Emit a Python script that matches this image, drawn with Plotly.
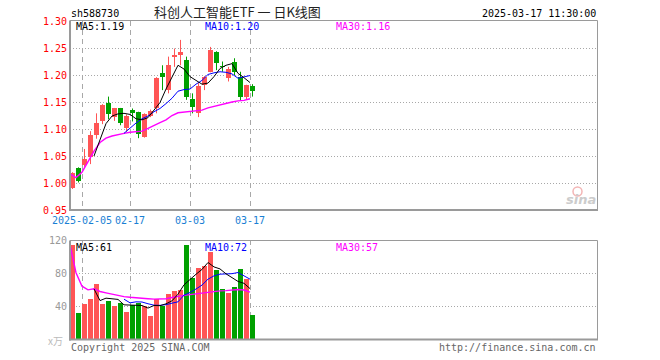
import plotly.graph_objects as go

# ---------------- data ----------------
dates = ["2025-01-24", "2025-01-27", "2025-02-05", "2025-02-06", "2025-02-07",
         "2025-02-10", "2025-02-11", "2025-02-12", "2025-02-13", "2025-02-14",
         "2025-02-17", "2025-02-18", "2025-02-19", "2025-02-20", "2025-02-21",
         "2025-02-24", "2025-02-25", "2025-02-26", "2025-02-27", "2025-02-28",
         "2025-03-03", "2025-03-04", "2025-03-05", "2025-03-06", "2025-03-07",
         "2025-03-10", "2025-03-11", "2025-03-12", "2025-03-13", "2025-03-14",
         "2025-03-17"]
opens = [0.991, 1.028, 1.033, 1.048, 1.089, 1.114, 1.149, 1.122, 1.138, 1.101,
         1.136, 1.132, 1.085, 1.124, 1.138, 1.204, 1.172, 1.233, 1.237, 1.228,
         1.156, 1.130, 1.181, 1.206, 1.243, 1.217, 1.194, 1.225, 1.197, 1.160,
         1.180]
highs = [1.020, 1.029, 1.063, 1.096, 1.129, 1.146, 1.160, 1.139, 1.139, 1.127,
         1.138, 1.132, 1.129, 1.136, 1.196, 1.218, 1.234, 1.249, 1.265, 1.234,
         1.166, 1.185, 1.198, 1.252, 1.244, 1.225, 1.215, 1.231, 1.206, 1.182,
         1.183]
lows = [0.989, 1.001, 1.030, 1.035, 1.082, 1.109, 1.118, 1.115, 1.107, 1.095,
        1.114, 1.083, 1.084, 1.122, 1.129, 1.172, 1.166, 1.215, 1.218, 1.154,
        1.129, 1.122, 1.172, 1.205, 1.209, 1.206, 1.188, 1.200, 1.153, 1.154,
        1.160]
closes = [1.018, 1.004, 1.044, 1.089, 1.111, 1.144, 1.128, 1.138, 1.112, 1.124,
          1.130, 1.090, 1.128, 1.134, 1.195, 1.196, 1.219, 1.237, 1.243, 1.160,
          1.140, 1.180, 1.197, 1.246, 1.222, 1.215, 1.212, 1.206, 1.160, 1.182,
          1.171]
volumes = [114.0, 32.7, 43.6, 49.7, 66.7, 43.6, 47.3, 41.2, 44.8, 33.9,
           42.4, 44.8, 41.2, 29.1, 49.7, 41.2, 55.8, 59.4, 60.6, 114.0,
           74.0, 86.5, 88.4, 105.8, 84.0, 61.8, 57.0, 63.8, 84.8, 72.7,
           30.3]

# moving averages
ma5_start = 4
ma5 = [1.050, 1.080, 1.110, 1.124, 1.128, 1.129, 1.127, 1.119, 1.117, 1.121,
       1.135, 1.149, 1.174, 1.196, 1.218, 1.211, 1.197, 1.190, 1.183, 1.185,
       1.197, 1.212, 1.218, 1.221, 1.203, 1.195, 1.186]
ma10_start = 9
ma10 = [1.092, 1.102, 1.111, 1.119, 1.124, 1.132, 1.138, 1.147, 1.157, 1.170,
        1.173, 1.174, 1.183, 1.190, 1.201, 1.204, 1.206, 1.205, 1.202, 1.194,
        1.196, 1.199]
ma30 = [1.017, 1.010, 1.020, 1.040, 1.059, 1.075, 1.083, 1.087, 1.090, 1.092,
        1.094, 1.095, 1.096, 1.101, 1.107, 1.112, 1.117, 1.125, 1.130, 1.131,
        1.132, 1.133, 1.135, 1.139, 1.142, 1.145, 1.147, 1.150, 1.152, 1.153,
        1.156]
vma5 = [61.3, 47.3, 50.2, 49.7, 48.7, 42.2, 41.9, 41.4, 41.4, 38.3,
        41.4, 41.2, 43.4, 47.0, 55.0, 66.2, 72.8, 78.9, 84.7, 93.0,
        87.7, 85.3, 79.4, 74.5, 70.3, 68.0, 61.7]
vma10 = [49.0, 44.6, 45.8, 45.6, 43.5, 41.8, 41.6, 42.4, 44.2, 45.8,
         53.8, 57.0, 61.2, 65.9, 73.0, 77.0, 79.0, 79.2, 79.6, 81.0,
         77.0, 73.0]
vma30 = [114.0, 80.8, 64.6, 60.2, 61.4, 58.2, 56.6, 55.0, 53.3, 52.1,
         51.3, 50.5, 50.1, 49.5, 49.0, 48.8, 49.5, 51.0, 52.5, 53.5,
         54.5, 55.4, 57.0, 58.0, 58.6, 59.0, 59.3, 59.8, 60.6, 60.0,
         57.5]

price_ticks = [0.95, 1.00, 1.05, 1.10, 1.15, 1.20, 1.25, 1.30]
vol_ticks = [40, 80, 120]
date_tick_idx = [2, 10, 20, 30]
date_tick_text = ["2025-02-05", "02-17", "03-03", "03-17"]

symbol = "sh588730"
title = "科创人工智能ETF 一 日K线图"
stamp = "2025-03-17 11:30:00"
ma_labels_price = ["MA5:1.19", "MA10:1.20", "MA30:1.16"]
ma_labels_vol = ["MA5:61", "MA10:72", "MA30:57"]

# ---------------- styling ----------------
W, H = 660, 360
L, R, T, B = 70, 597, 21, 340          # plot area in pixels
RED = "#ff5555"
GREEN = "#00a000"
GRID = "#a8a8a8"
BORDER = "#9a9a9a"
MONO = "DejaVu Sans Mono"
EDGE = -0.417  # offset from bar centre to the left edge of a bar

n = len(closes)
idx = list(range(n))
colors = [RED if c >= o else GREEN for o, c in zip(opens, closes)]


def px_x(p):
    return (p - L) / (R - L)


def px_y(p):
    return 1 - (p - T) / (B - T)


fig = go.Figure()

# wicks
for col in (RED, GREEN):
    wx, wy = [], []
    for i in idx:
        if colors[i] == col:
            wx += [i, i, None]
            wy += [lows[i], highs[i], None]
    fig.add_trace(go.Scatter(x=wx, y=wy, mode="lines", line=dict(color=col, width=1),
                             hoverinfo="skip", xaxis="x", yaxis="y"))

# bodies
fig.add_trace(go.Bar(
    x=idx, y=[max(abs(c - o), 0.0009) for o, c in zip(opens, closes)],
    base=[min(o, c) for o, c in zip(opens, closes)],
    marker=dict(color=colors, line=dict(width=0)), width=0.83,
    xaxis="x", yaxis="y"))

# price MAs
fig.add_trace(go.Scatter(x=[i + EDGE for i in idx], y=ma30, mode="lines",
                         line=dict(color="#ff00ff", width=1.4), xaxis="x", yaxis="y"))
fig.add_trace(go.Scatter(x=[i + EDGE for i in idx[ma10_start:]], y=ma10, mode="lines",
                         line=dict(color="#0000ff", width=1), xaxis="x", yaxis="y"))
fig.add_trace(go.Scatter(x=[i + EDGE for i in idx[ma5_start:]], y=ma5, mode="lines",
                         line=dict(color="#000000", width=1), xaxis="x", yaxis="y"))

# volume
fig.add_trace(go.Bar(x=idx, y=volumes, marker=dict(color=colors, line=dict(width=0)),
                     width=0.83, xaxis="x2", yaxis="y2"))
fig.add_trace(go.Scatter(x=[i + EDGE for i in idx], y=vma30, mode="lines",
                         line=dict(color="#ff00ff", width=1.4), xaxis="x2", yaxis="y2"))
fig.add_trace(go.Scatter(x=[i + EDGE for i in idx[ma10_start:]], y=vma10, mode="lines",
                         line=dict(color="#0000ff", width=1), xaxis="x2", yaxis="y2"))
fig.add_trace(go.Scatter(x=[i + EDGE for i in idx[ma5_start:]], y=vma5, mode="lines",
                         line=dict(color="#000000", width=1), xaxis="x2", yaxis="y2"))

xrange = [EDGE, (R - 72.5) / 6]
xgrid = [i + EDGE for i in date_tick_idx]

common_x = dict(domain=[0, 1], range=xrange, tickvals=xgrid, showgrid=True,
                gridcolor=GRID, griddash="5px,4px", gridwidth=1, zeroline=False,
                showline=False, ticks="", fixedrange=True, automargin=False)

fig.update_layout(
    width=W, height=H, margin=dict(l=L, r=W - R, t=T, b=H - B, autoexpand=False),
    paper_bgcolor="white", plot_bgcolor="white", showlegend=False,
    bargap=0, hovermode=False,
    xaxis=dict(**common_x, anchor="y", ticktext=date_tick_text, ticklabelstandoff=3,
               tickfont=dict(family=MONO, size=10, color="#1a7fd4")),
    yaxis=dict(domain=[px_y(210), 1], range=[0.95, 1.30], tickvals=price_ticks,
               ticktext=["%.2f" % v for v in price_ticks], showgrid=True, gridcolor=GRID,
               griddash="1px,2px", zeroline=False, showline=False, ticks="",
               ticklabelstandoff=2, automargin=False, fixedrange=True,
               tickfont=dict(family=MONO, size=10, color="#ff0000"), anchor="x"),
    xaxis2=dict(**common_x, anchor="y2", showticklabels=False),
    yaxis2=dict(domain=[0, px_y(240)], range=[0, 120], tickvals=vol_ticks,
                ticktext=[str(v) for v in vol_ticks], showgrid=True, gridcolor=GRID,
                griddash="1px,2px", zeroline=False, showline=False, ticks="",
                ticklabelstandoff=2, automargin=False, fixedrange=True,
                tickfont=dict(family=MONO, size=10, color="#999999"), anchor="x2"),
)

# panel borders
shapes = []
for top, bot in ((20.5, 210), (240.5, 339.5)):
    shapes += [
        dict(type="line", xref="paper", yref="paper", x0=px_x(70), x1=px_x(597.5),
             y0=px_y(top), y1=px_y(top), line=dict(color=BORDER, width=1)),
        dict(type="line", xref="paper", yref="paper", x0=px_x(597.5), x1=px_x(597.5),
             y0=px_y(top), y1=px_y(bot), line=dict(color=BORDER, width=1)),
        dict(type="line", xref="paper", yref="paper", x0=px_x(69), x1=px_x(598),
             y0=px_y(bot), y1=px_y(bot), line=dict(color=BORDER, width=2)),
        dict(type="line", xref="paper", yref="paper", x0=px_x(70), x1=px_x(70),
             y0=px_y(top), y1=px_y(bot + 1), line=dict(color=BORDER, width=2)),
    ]
# faint sina logo eye
shapes.append(dict(type="circle", xref="paper", yref="paper",
                   x0=px_x(573), x1=px_x(582), y0=px_y(196), y1=px_y(187),
                   line=dict(color="#f3b5b5", width=1.5), fillcolor="rgba(0,0,0,0)"))
fig.update_layout(shapes=shapes)


def ann(text, x, y, xanchor="left", color="#000", size=10, family=MONO, **kw):
    fig.add_annotation(text=text, x=px_x(x), y=px_y(y), xref="paper", yref="paper",
                       xanchor=xanchor, yanchor="middle", showarrow=False,
                       font=dict(family=family, size=size, color=color), **kw)


ann(symbol, 69, 13)
ann(title, 237.5, 12, xanchor="center", size=13, color="#222",
    family="Noto Sans CJK SC")
ann(stamp, 598, 13, xanchor="right")
ann(ma_labels_price[0], 74, 27)
ann(ma_labels_price[1], 203, 27, color="#0000ff")
ann(ma_labels_price[2], 334, 27, color="#ff00ff")
ann(ma_labels_vol[0], 74, 247)
ann(ma_labels_vol[1], 203, 247, color="#0000ff")
ann(ma_labels_vol[2], 334, 247, color="#ff00ff")
ann("Copyright 2025 SINA.COM", 69, 347, color="#666666")
ann("http://finance.sina.com.cn", 598, 347, xanchor="right", color="#666666")
ann("x万", 65, 341, xanchor="right", color="#bbbbbb", family="Noto Sans CJK SC")
ann("<i><b>sina</b></i>", 598, 199, xanchor="right", color="#cccccc", size=13,
    family="DejaVu Sans")

fig.write_html("out.html", config={"displayModeBar": False, "staticPlot": True},
               post_script="document.body.style.margin='0';document.body.style.padding='0';")
